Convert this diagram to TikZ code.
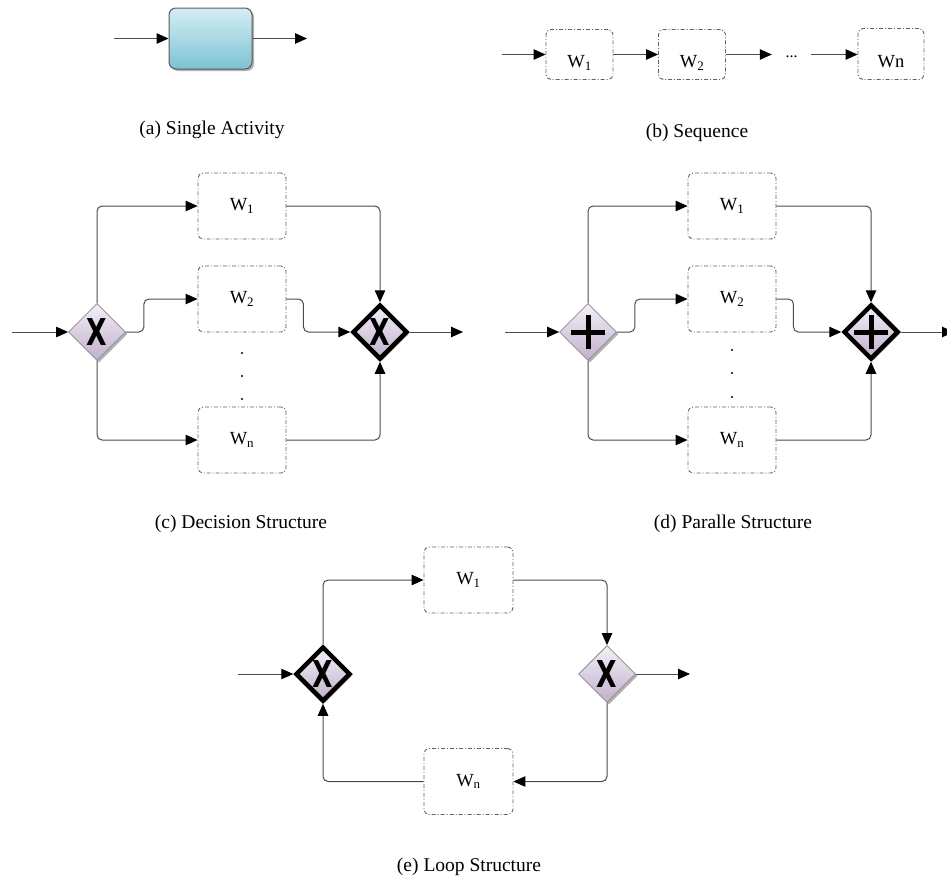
\documentclass[tikz,border=0pt]{standalone}
\usepackage{fontspec}
\setmainfont{Liberation Serif}
\newfontfamily\gatefont{DejaVu Sans}
\usetikzlibrary{arrows.meta,shapes.geometric,shadows}

\definecolor{acttop}{HTML}{D5EEF4}
\definecolor{actbot}{HTML}{7CC2D3}
\definecolor{gatetop}{HTML}{F3EFF6}
\definecolor{gatebot}{HTML}{C1B0CC}

% exclusive gateway glyph
\newcommand\gateX{{\gatefont\bfseries\fontsize{37}{37}\selectfont\scalebox{0.72}[1]{X}}}
% label sitting low inside the sequence boxes
\newcommand\lowlabel[1]{\raisebox{-13pt}[0pt][0pt]{#1}}

\tikzset{
  x=1pt, y=-1pt,
  conn/.style={draw=black!70, line width=1pt, rounded corners=5pt,
    -{Triangle[length=12pt,width=10.5pt,color=black]}},
  softshadow/.style={drop shadow={shadow xshift=2pt,shadow yshift=-2pt,opacity=0.3,fill=black}},
  activity/.style={draw=black!65, line width=1pt, rounded corners=7pt,
    top color=acttop, bottom color=actbot, minimum width=83pt, minimum height=61pt,
    inner sep=0pt, softshadow},
  task/.style={draw=black!62, line width=0.9pt, rounded corners=5pt,
    dash pattern=on 4pt off 2pt on 1pt off 2pt,
    minimum width=88pt, minimum height=66pt, inner sep=0pt,
    font=\fontsize{18.5}{20}\selectfont},
  seqtask/.style={task, minimum width=67pt, minimum height=50pt},
  gate/.style={diamond, aspect=1, draw=black!45, line width=0.8pt,
    top color=gatetop, bottom color=gatebot,
    minimum width=57pt, minimum height=57pt, inner sep=0pt, softshadow},
  merge/.style={gate, draw=black, line width=4.5pt, minimum width=55pt, minimum height=55pt},
  plus/.style={path picture={
    \draw[black, line width=5pt] ([xshift=-17pt]path picture bounding box.center) -- ([xshift=17pt]path picture bounding box.center);
    \draw[black, line width=5pt] ([yshift=-17pt]path picture bounding box.center) -- ([yshift=17pt]path picture bounding box.center);}},
  caption/.style={font=\fontsize{19.5}{22}\selectfont, inner sep=0pt},
  vdot/.style={fill=black}
}

\begin{document}
\begin{tikzpicture}
\useasboundingbox (0,0) rectangle (947,879);

% ---------- (a) single activity ----------
\node[activity] (act) at (210.5,38.5) {};
\coordinate (ain) at (114,38.5);
\coordinate (aout) at (307,38.5);
\draw[conn] (ain) -- (act);
\draw[conn] (act) -- (aout);
\node[caption] (capa) at (212,130) {(a) Single Activity};

% ---------- (b) sequence ----------
\node[seqtask] (s1) at (579.5,54.5) {\lowlabel{W\textsubscript{1}}};
\node[seqtask] (s2) at (692,54.5) {\lowlabel{W\textsubscript{2}}};
\node[seqtask, minimum width=66pt, minimum height=51pt] (sn) at (891,54) {\lowlabel{Wn}};
\node[inner sep=0pt, minimum width=39pt, text height=5pt, text depth=0pt,
      font=\fontsize{16}{18}\selectfont] (ell) at (791.5,54.5) {...};
\coordinate (bin) at (502,54.5);
\draw[conn] (bin) -- (s1);
\draw[conn] (s1) -- (s2);
\draw[conn] (s2) -- (ell);
\draw[conn] (ell) -- (sn.west |- ell);
\node[caption] (capb) at (697,133) {(b) Sequence};

% ---------- (c) decision structure ----------
\node[gate] (cd) at (97,332) {\gateX};
\node[merge] (cm) at (380,332) {\gateX};
\node[task] (c1) at (242,206) {W\textsubscript{1}};
\node[task] (c2) at (242,299) {W\textsubscript{2}};
\node[task] (cn) at (242,440) {W\textsubscript{n}};
\coordinate (cin) at (12,332);
\coordinate (cout) at (463,332);
\draw[conn] (cin) -- (cd);
\draw[conn] (cd.north) |- (c1.west);
\draw[conn] (cd.east) -- ++(18,0) |- (c2.west);
\draw[conn] (cd.south) |- (cn.west);
\draw[conn] (c1.east) -| (cm.north);
\draw[conn] (c2.east) -- ++(17,0) |- (cm.west);
\draw[conn] (cn.east) -| (cm.south);
\draw[conn] (cm) -- (cout);
\fill[vdot] (242,353) circle (1.1pt) (242,376) circle (1.1pt) (242,399) circle (1.1pt);
\node[caption] (capc) at (241,524) {(c) Decision Structure};

% ---------- (d) parallel structure ----------
\node[gate, plus] (pd) at (588,332) {};
\node[merge, plus] (pm) at (871,332) {};
\node[task] (p1) at (732,206) {W\textsubscript{1}};
\node[task] (p2) at (732,299) {W\textsubscript{2}};
\node[task] (pn) at (732,440) {W\textsubscript{n}};
\coordinate (pin) at (505,332);
\coordinate (pout) at (954,332);
\draw[conn] (pin) -- (pd);
\draw[conn] (pd.north) |- (p1.west);
\draw[conn] (pd.east) -- ++(18,0) |- (p2.west);
\draw[conn] (pd.south) |- (pn.west);
\draw[conn] (p1.east) -| (pm.north);
\draw[conn] (p2.east) -- ++(17,0) |- (pm.west);
\draw[conn] (pn.east) -| (pm.south);
\draw[conn] (pm) -- (pout);
\fill[vdot] (732,350) circle (1.1pt) (732,373) circle (1.1pt) (732,397) circle (1.1pt);
\node[caption] (capd) at (733,524) {(d) Paralle Structure};

% ---------- (e) loop structure ----------
\node[merge] (le) at (323,674) {\gateX};
\node[gate] (re) at (607,674) {\gateX};
\node[task, minimum width=89pt] (e1) at (468.5,580) {W\textsubscript{1}};
\node[task, minimum width=89pt] (en) at (468.5,781.5) {W\textsubscript{n}};
\coordinate (ein) at (238,674);
\coordinate (eout) at (690,674);
\draw[conn] (ein) -- (le);
\draw[conn] (le.north) |- (e1.west);
\draw[conn] (e1.east) -| (re.north);
\draw[conn] (re) -- (eout);
\draw[conn] (re.south) |- (en.east);
\draw[conn] (en.west) -| (le.south);
\node[caption] (cape) at (469,867) {(e) Loop Structure};
\end{tikzpicture}
\end{document}
